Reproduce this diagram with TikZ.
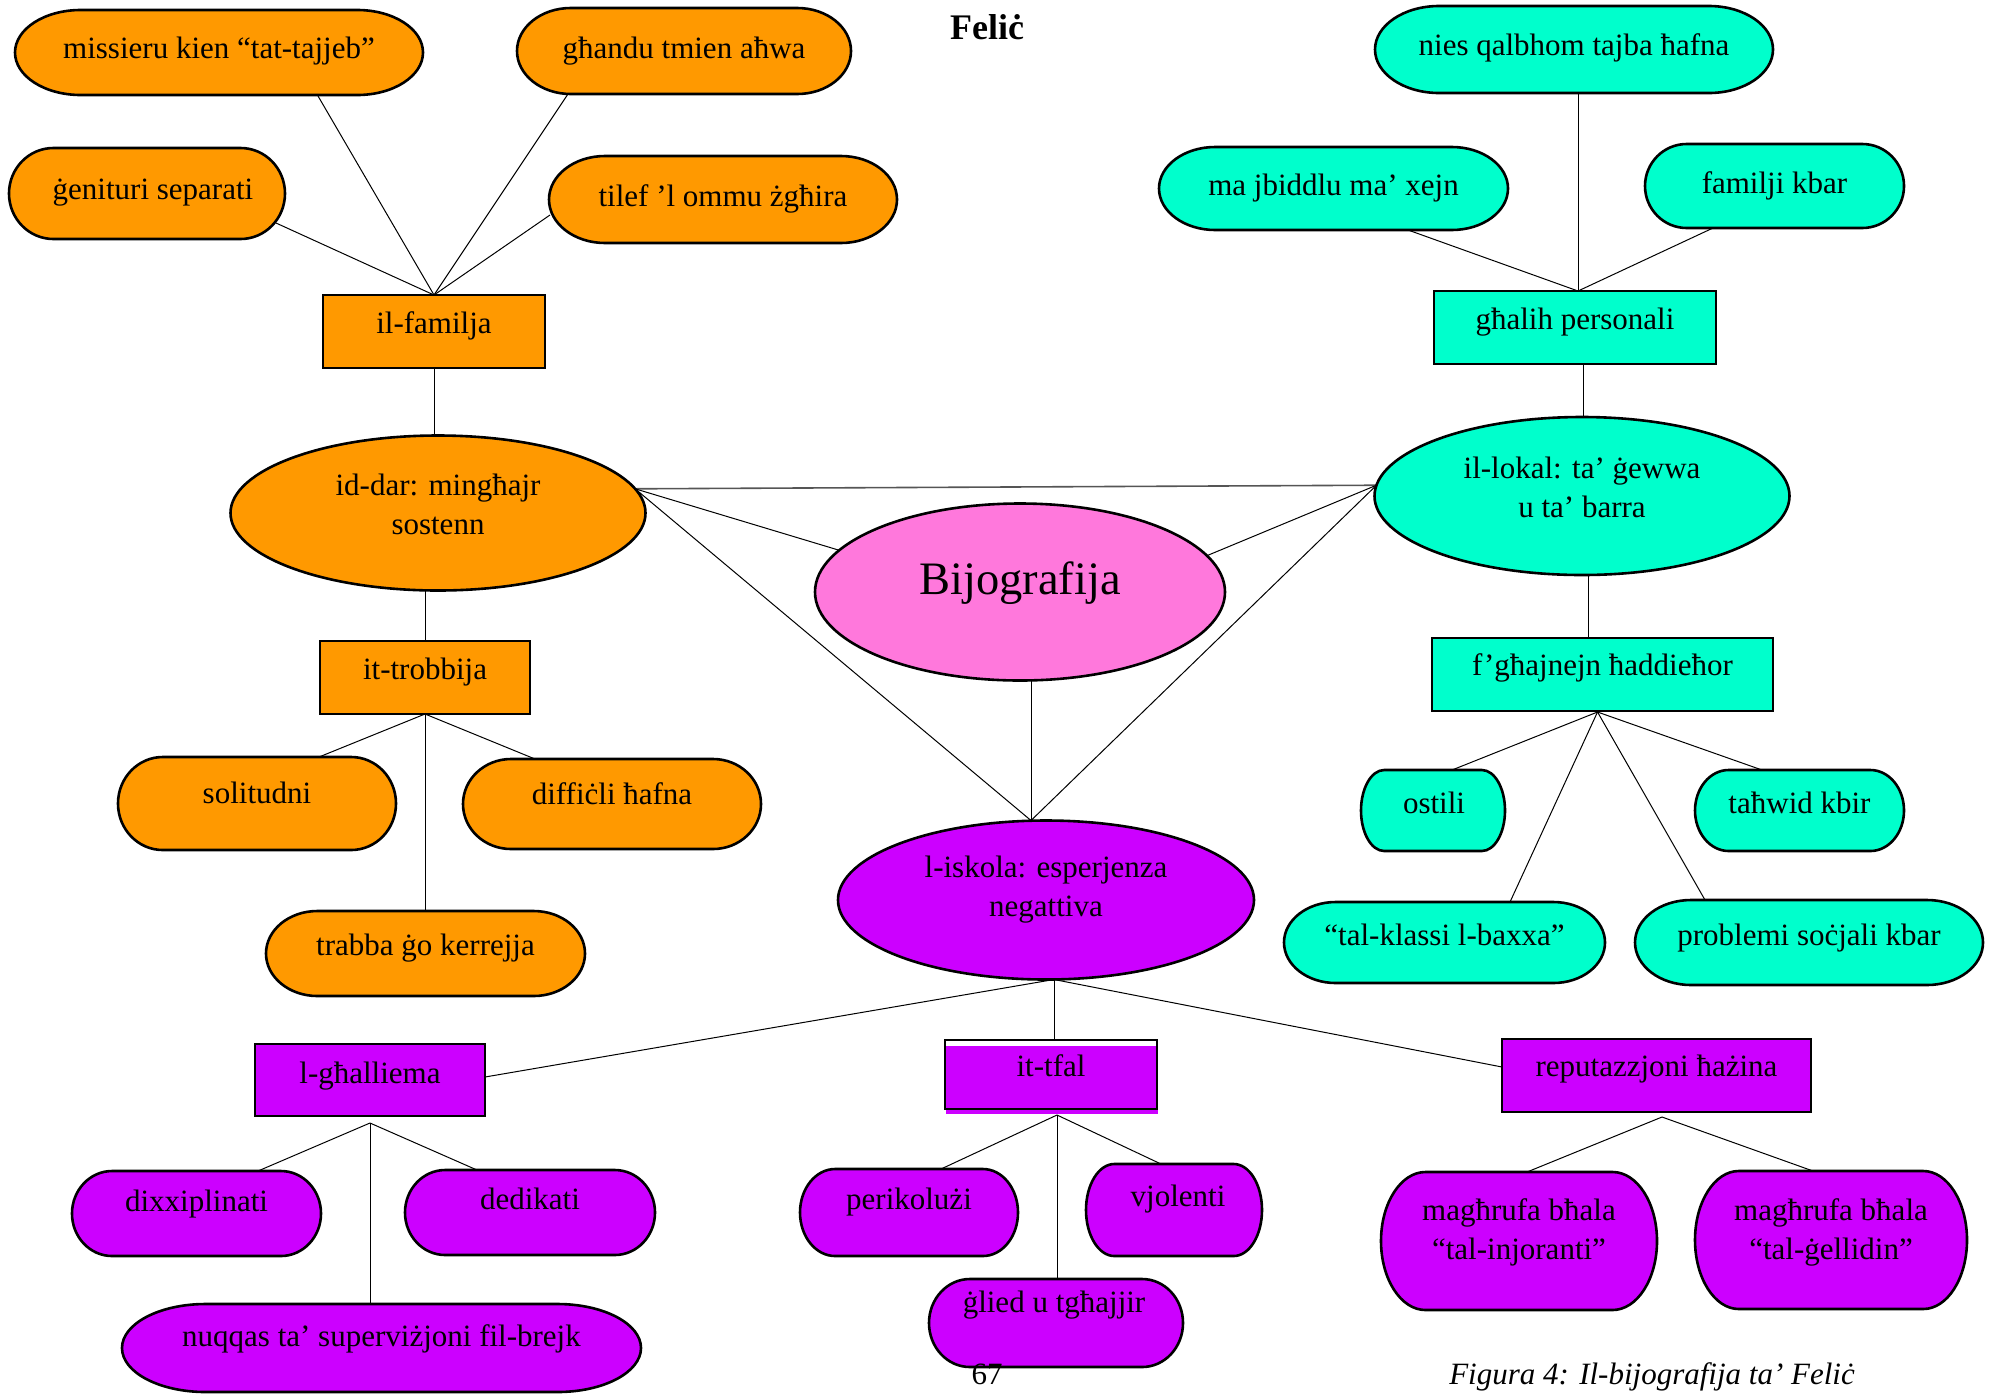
\documentclass[tikz,border=0pt]{standalone}
\usepackage{fontspec}
\setmainfont{Liberation Serif}
\usetikzlibrary{shapes.geometric,backgrounds}
\definecolor{corange}{HTML}{FF9900}
\definecolor{ccyan}{HTML}{00FFCC}
\definecolor{cpink}{HTML}{FF78DC}
\definecolor{cpurple}{HTML}{CC00FF}
\definecolor{cgrayline}{HTML}{555555}
\tikzset{
  shp/.style={draw=black, line width=1.3pt},
  lnk/.style={draw=black, line width=0.5pt},
  anch/.style={rectangle, inner sep=0pt, outer sep=0pt},
  rbox/.style={rectangle, shp, inner sep=0pt, outer sep=0pt},
  ebox/.style={ellipse, shp, inner sep=0pt, outer sep=0pt},
  txt/.style={font=\fontsize{15.5pt}{19pt}\selectfont, inner sep=0pt, text height=10.85pt, text depth=3.1pt},
  txtm/.style={font=\fontsize{15.5pt}{19.5pt}\selectfont, inner sep=0pt, align=center},
}
% terminator shape: name, x1, y1, x2, y2, fill colour
\newcommand\term[6]{%
  \pgfmathsetmacro\tw{#4-#2}%
  \pgfmathsetmacro\th{#5-#3}%
  \pgfmathsetmacro\trx{0.161*\tw}%
  \pgfmathsetmacro\try{\th/2}%
  \filldraw[shp, fill=#6] ({#2+\trx},#5) -- ({#4-\trx},#5)
    arc[start angle=-90, end angle=90, x radius=\trx*0.5pt, y radius=\try*0.5pt]
    -- ({#2+\trx},#3)
    arc[start angle=90, end angle=270, x radius=\trx*0.5pt, y radius=\try*0.5pt]
    -- cycle;
  \node[anch, minimum width=\tw*0.5pt, minimum height=\th*0.5pt] (#1) at ({(#2+#4)/2},{(#3+#5)/2}) {};
}
\begin{document}
\begin{tikzpicture}[x=0.5pt, y=-0.5pt]
\useasboundingbox (0,0) rectangle (1996,1393);

% ---------- orange ----------
\term{miss}{15}{10}{423}{95}{corange}
\node[txt] (miss-t) at (219,51) {missieru kien “tat-tajjeb”};
\term{ghandu}{517}{8}{851}{94}{corange}
\node[txt] (ghandu-t) at (684,51) {għandu tmien aħwa};
\term{gen}{9}{148}{285}{239}{corange}
\node[txt] (gen-t) at (153,192) {ġenituri separati};
\term{tilef}{549}{156}{897}{243}{corange}
\node[txt] (tilef-t) at (723,199) {tilef ’l ommu żgħira};
\node[rbox, fill=corange, minimum width=111pt, minimum height=36.5pt] (fam) at (434,331.5) {};
\node[txt] (fam-t) at (434,326) {il-familja};
\node[ebox, fill=corange, minimum width=207.5pt, minimum height=77.5pt] (dar) at (438,513) {};
\node[txtm] (dar-t) at (438,504) {id-dar: mingħajr\\sostenn};
\node[rbox, fill=corange, minimum width=105pt, minimum height=36.5pt] (trob) at (425,677.5) {};
\node[txt] (trob-t) at (425,672) {it-trobbija};
\term{sol}{118}{757}{396}{850}{corange}
\node[txt] (sol-t) at (257,796) {solitudni};
\term{diff}{463}{759}{761}{849}{corange}
\node[txt] (diff-t) at (612,797) {diffiċli ħafna};
\term{trab}{266}{911}{585}{996}{corange}
\node[txt] (trab-t) at (425.5,948) {trabba ġo kerrejja};

% ---------- cyan ----------
\term{nies}{1375}{6}{1773}{93}{ccyan}
\node[txt] (nies-t) at (1574,48) {nies qalbhom tajba ħafna};
\term{majb}{1159}{147}{1508}{230}{ccyan}
\node[txt] (majb-t) at (1333.5,188) {ma jbiddlu ma’ xejn};
\term{famk}{1645}{144}{1904}{228}{ccyan}
\node[txt] (famk-t) at (1774.5,186) {familji kbar};
\node[rbox, fill=ccyan, minimum width=141pt, minimum height=36.5pt] (ghal) at (1575,327.5) {};
\node[txt] (ghal-t) at (1575,322) {għalih personali};
\node[ebox, fill=ccyan, minimum width=207.5pt, minimum height=79pt] (lok) at (1582,496) {};
\node[txtm] (lok-t) at (1582,487) {il-lokal: ta’ ġewwa\\u ta’ barra};
\node[rbox, fill=ccyan, minimum width=170.5pt, minimum height=36.5pt] (fgh) at (1602.5,674.5) {};
\node[txt] (fgh-t) at (1602.5,668) {f’għajnejn ħaddieħor};
\term{ost}{1361}{770}{1505}{851}{ccyan}
\node[txt] (ost-t) at (1434,806) {ostili};
\term{tahw}{1695}{770}{1904}{851}{ccyan}
\node[txt] (tahw-t) at (1799.5,806) {taħwid kbir};
\term{tkl}{1284}{902}{1605}{983}{ccyan}
\node[txt] (tkl-t) at (1444.5,938) {“tal-klassi l-baxxa”};
\term{prob}{1635}{900}{1983}{985}{ccyan}
\node[txt] (prob-t) at (1809,938) {problemi soċjali kbar};

% ---------- centre ----------
\node[ebox, fill=cpink, minimum width=205pt, minimum height=88.5pt] (bij) at (1020,592) {};
\node[font=\fontsize{23.25pt}{28pt}\selectfont, inner sep=0pt, anchor=base] (bij-t) at (1020,594) {Bijografija};

% ---------- purple ----------
\node[ebox, fill=cpurple, minimum width=208pt, minimum height=79.5pt] (isk) at (1046,900) {};
\node[txtm] (isk-t) at (1046,890) {l-iskola: esperjenza\\negattiva};
\node[rbox, fill=cpurple, minimum width=115pt, minimum height=36pt] (ghall) at (370,1080) {};
\node[txt] (ghall-t) at (370,1076) {l-għalliema};
\fill[cpurple] (946,1046) rectangle (1158,1114);
\node[rbox, minimum width=106pt, minimum height=34.5pt] (tfal) at (1051,1074.5) {};
\node[txt] (tfal-t) at (1051,1069) {it-tfal};
\node[rbox, fill=cpurple, minimum width=154.5pt, minimum height=36.5pt] (rep) at (1656.5,1075.5) {};
\node[txt] (rep-t) at (1656.5,1069) {reputazzjoni ħażina};
\term{dixx}{72}{1171}{321}{1256}{cpurple}
\node[txt] (dixx-t) at (196.5,1204) {dixxiplinati};
\term{ded}{405}{1170}{655}{1255}{cpurple}
\node[txt] (ded-t) at (530,1202) {dedikati};
\term{nuq}{122}{1304}{641}{1392}{cpurple}
\node[txt] (nuq-t) at (381.5,1339) {nuqqas ta’ superviżjoni fil-brejk};
\term{peri}{800}{1169}{1018}{1256}{cpurple}
\node[txt] (peri-t) at (909,1202) {perikolużi};
\term{vjol}{1086}{1164}{1262}{1256}{cpurple}
\node[txt] (vjol-t) at (1178,1199) {vjolenti};
\term{glied}{929}{1279}{1183}{1367}{cpurple}
\node[txt] (glied-t) at (1054,1305) {ġlied u tgħajjir};
\term{minj}{1381}{1172}{1657}{1310}{cpurple}
\node[txtm] (minj-t) at (1519,1232) {magħrufa bħala\\“tal-injoranti”};
\term{mgel}{1695}{1171}{1967}{1309}{cpurple}
\node[txtm] (mgel-t) at (1831,1232) {magħrufa bħala\\“tal-ġellidin”};

% ---------- title, page number, caption ----------
\node[font=\fontsize{18pt}{22pt}\selectfont\bfseries, inner sep=0pt, anchor=base] (title) at (987,39) {Feliċ};
\node[font=\fontsize{15.5pt}{19pt}\selectfont, inner sep=0pt, anchor=base] (pageno) at (987,1384) {67};
\node[font=\fontsize{15.5pt}{19pt}\selectfont\itshape, inner sep=0pt, anchor=base] (caption) at (1652,1384) {Figura 4: Il-bijografija ta’ Feliċ};

% ---------- connectors ----------
\begin{pgfonlayer}{background}
\fill[white] (0,0) rectangle (1996,1393);
% family
\coordinate (j1) at (fam.north);
\draw[lnk] (j1) -- ([shift={(99,1)}]miss.south);
\draw[lnk] (j1) -- ([shift={(-116,0)}]ghandu.south);
\draw[lnk] (j1) -- ([shift={(-9,29.5)}]gen.east);
\draw[lnk] (j1) -- ([shift={(1,15.5)}]tilef.west);
\draw[lnk] (fam.south) -- (fam.south |- dar.north);
\draw[lnk] (trob.north |- dar.south) -- (trob.north);
\coordinate (j2) at (trob.south);
\draw[lnk] (j2) -- ([shift={(62,0)}]sol.north);
\draw[lnk] (j2) -- ([shift={(-77,0)}]diff.north);
\draw[lnk] (j2) -- (j2 |- trab.north);
% personal
\coordinate (j3) at ([shift={(3,0)}]ghal.north);
\draw[lnk] (j3) -- (j3 |- nies.south);
\draw[lnk] (j3) -- ([shift={(74.5,0)}]majb.south);
\draw[lnk] (j3) -- ([shift={(-61.5,0)}]famk.south);
\draw[lnk] ([shift={(8,0)}]ghal.south) -- ([shift={(8,0)}]ghal.south |- lok.north);
\draw[lnk] ([shift={(6,0)}]lok.south) -- ([shift={(6,0)}]lok.south |- fgh.north);
\coordinate (j4) at ([shift={(-5,1)}]fgh.south);
\draw[lnk] (j4) -- ([shift={(19,0)}]ost.north);
\draw[lnk] (j4) -- ([shift={(-37.5,0)}]tahw.north);
\draw[lnk] (j4) -- ([shift={(65.5,0)}]tkl.north);
\draw[lnk] (j4) -- ([shift={(-104,0)}]prob.north);
% centre
\coordinate (dpt) at (dar.7.5);
\coordinate (lpt) at (lok.177);
\coordinate (j5) at ([shift={(-15,0)}]isk.north);
\draw[draw=cgrayline, line width=0.8pt] (dpt) -- (lpt);
\draw[lnk] (dpt) -- (bij.167);
\draw[lnk] (dpt) -- (j5);
\draw[lnk] (lpt) -- (bij.11);
\draw[lnk] (lpt) -- (j5);
\draw[lnk] (j5 |- bij.south) -- (j5);
% school
\coordinate (j6) at ([shift={(8,0)}]isk.south);
\draw[lnk] (j6) -- ([shift={(0,-3)}]ghall.east);
\draw[lnk] (j6) -- (j6 |- tfal.north);
\draw[lnk] (j6) -- ([shift={(0,-8.5)}]rep.west);
\coordinate (j7) at ([shift={(0,7)}]ghall.south);
\draw[lnk] (j7) -- ([shift={(61.5,0)}]dixx.north);
\draw[lnk] (j7) -- ([shift={(-53,0)}]ded.north);
\draw[lnk] (j7) -- (j7 |- nuq.north);
\coordinate (j8) at ([shift={(6,6)}]tfal.south);
\draw[lnk] (j8) -- ([shift={(32,0)}]peri.north);
\draw[lnk] (j8) -- ([shift={(-13,0)}]vjol.north);
\draw[lnk] (j8) -- (j8 |- glied.north);
\coordinate (j9) at ([shift={(5.5,5)}]rep.south);
\draw[lnk] (j9) -- ([shift={(8,0)}]minj.north);
\draw[lnk] (j9) -- ([shift={(-18,0)}]mgel.north);
\end{pgfonlayer}
\end{tikzpicture}
\end{document}
